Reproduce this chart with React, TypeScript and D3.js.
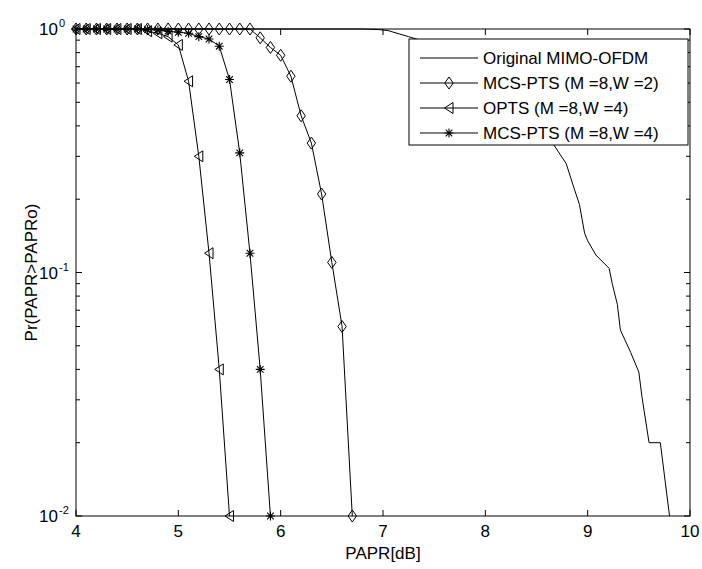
import React from "react";
import * as d3 from "d3";

// ---- data ----
const xTicks = [4, 5, 6, 7, 8, 9, 10];
const yDecades = [1, 0.1, 0.01];
const yExponents = ["0", "-1", "-2"];
const legendLabels = [
  "Original MIMO-OFDM",
  "MCS-PTS (M =8,W =2)",
  "OPTS (M =8,W =4)",
  "MCS-PTS (M =8,W =4)",
];

const originalX = [4.0, 6.8, 6.95, 7.05, 7.25, 7.6, 8.0, 8.3, 8.6, 8.79, 8.87, 8.92, 8.97, 9.0, 9.08, 9.21, 9.24, 9.29, 9.32, 9.42, 9.5, 9.53, 9.6, 9.71, 9.8];
const originalP = [1, 1, 0.995, 0.985, 0.93, 0.84, 0.66, 0.5, 0.37, 0.28, 0.22, 0.19, 0.145, 0.135, 0.118, 0.104, 0.09, 0.074, 0.058, 0.047, 0.039, 0.031, 0.02, 0.02, 0.01];

const mcsW2X = [4.0, 4.1, 4.2, 4.3, 4.4, 4.5, 4.6, 4.7, 4.8, 4.9, 5.0, 5.1, 5.2, 5.3, 5.4, 5.5, 5.6, 5.7, 5.8, 5.9, 6.0, 6.1, 6.2, 6.3, 6.4, 6.5, 6.6, 6.7];
const mcsW2P = [1, 1, 1, 1, 1, 1, 1, 1, 1, 1, 1, 1, 1, 1, 1, 1, 1, 1, 0.92, 0.84, 0.78, 0.64, 0.44, 0.34, 0.21, 0.11, 0.06, 0.01];

const optsX = [4.0, 4.1, 4.2, 4.3, 4.4, 4.5, 4.6, 4.7, 4.8, 4.9, 5.0, 5.1, 5.2, 5.3, 5.4, 5.5];
const optsP = [1, 1, 1, 1, 1, 1, 1, 0.98, 0.96, 0.93, 0.86, 0.61, 0.3, 0.12, 0.04, 0.01];

const mcsW4X = [4.0, 4.1, 4.2, 4.3, 4.4, 4.5, 4.6, 4.7, 4.8, 4.9, 5.0, 5.1, 5.2, 5.3, 5.4, 5.5, 5.6, 5.7, 5.8, 5.9];
const mcsW4P = [1, 1, 1, 1, 1, 1, 1, 0.995, 0.99, 0.98, 0.97, 0.96, 0.93, 0.91, 0.85, 0.62, 0.31, 0.12, 0.04, 0.01];

// ---- layout ----
const W = 702;
const H = 569;
const L = 76, R = 690, T = 29, B = 516;
const FONT = "'Liberation Sans', Arial, sans-serif";
const FS = 17;

const x = d3.scaleLinear().domain([4, 10]).range([L, R]);
const y = d3.scaleLog().domain([0.01, 1]).range([B, T]);

const line = d3
  .line<[number, number]>()
  .x((d) => x(d[0]))
  .y((d) => y(d[1]));

function zip(xs: number[], ps: number[]): [number, number][] {
  return xs.map((v, i) => [v, ps[i]] as [number, number]);
}

function marker(kind: string, cx: number, cy: number, key: any) {
  const common = { fill: "none", stroke: "#000", strokeWidth: 1 };
  if (kind === "diamond") {
    const p = `M${cx},${cy - 6}L${cx + 4.2},${cy}L${cx},${cy + 6}L${cx - 4.2},${cy}Z`;
    return <path key={key} d={p} {...common} />;
  }
  if (kind === "tri") {
    const p = `M${cx - 4.5},${cy}L${cx + 4},${cy - 5.5}L${cx + 4},${cy + 5.5}Z`;
    return <path key={key} d={p} {...common} />;
  }
  // asterisk
  const a = 4.5, b = 3.3;
  const p = `M${cx},${cy - a}L${cx},${cy + a}M${cx - a},${cy}L${cx + a},${cy}M${cx - b},${cy - b}L${cx + b},${cy + b}M${cx - b},${cy + b}L${cx + b},${cy - b}`;
  return <path key={key} d={p} {...common} strokeWidth={1.1} />;
}

export default function App() {
  const series = [
    { data: zip(mcsW2X, mcsW2P), m: "diamond" },
    { data: zip(optsX, optsP), m: "tri" },
    { data: zip(mcsW4X, mcsW4P), m: "star" },
  ];

  const minorTicks: number[] = [];
  [0.01, 0.1].forEach((dec) => {
    for (let k = 2; k <= 9; k++) minorTicks.push(dec * k);
  });

  const legX = 409, legY = 39, legW = 279, legH = 106;
  const rowY = [58, 83, 108, 133];
  const legKinds = ["none", "diamond", "tri", "star"];

  return (
    <svg
      width={W}
      height={H}
      style={{ position: "absolute", left: 0, top: 0, background: "#fff" }}
      fontFamily={FONT}
    >
      <rect x={0} y={0} width={W} height={H} fill="#fff" />
      {/* ticks */}
      {xTicks.map((t) => (
        <g key={"xt" + t}>
          <line x1={x(t)} x2={x(t)} y1={B} y2={B - 6} stroke="#000" />
          <line x1={x(t)} x2={x(t)} y1={T} y2={T + 6} stroke="#000" />
          <text x={x(t)} y={B + 21} fontSize={FS} textAnchor="middle" fill="#000">
            {t}
          </text>
        </g>
      ))}
      {yDecades.map((t, i) => (
        <g key={"yt" + t}>
          <line x1={L} x2={L + 6} y1={y(t)} y2={y(t)} stroke="#000" />
          <line x1={R} x2={R - 6} y1={y(t)} y2={y(t)} stroke="#000" />
          <text x={58} y={y(t) + 6} fontSize={FS} textAnchor="end" fill="#000">
            10
          </text>
          <text x={59} y={y(t) - 2} fontSize={11} textAnchor="start" fill="#000">
            {yExponents[i]}
          </text>
        </g>
      ))}
      {minorTicks.map((t) => (
        <g key={"mt" + t}>
          <line x1={L} x2={L + 4} y1={y(t)} y2={y(t)} stroke="#000" />
          <line x1={R} x2={R - 4} y1={y(t)} y2={y(t)} stroke="#000" />
        </g>
      ))}
      {/* axes box */}
      <rect x={L} y={T} width={R - L} height={B - T} fill="none" stroke="#000" strokeWidth={1} />

      {/* original curve */}
      <path d={line(zip(originalX, originalP)) || ""} fill="none" stroke="#000" strokeWidth={1} />

      {series.map((s, si) => (
        <g key={"s" + si}>
          <path d={line(s.data) || ""} fill="none" stroke="#000" strokeWidth={1} />
          {s.data.map((d, i) => marker(s.m, x(d[0]), y(d[1]), i))}
        </g>
      ))}

      {/* legend */}
      <rect x={legX} y={legY} width={legW} height={legH} fill="#fff" stroke="#000" strokeWidth={1} />
      {legendLabels.map((lab, i) => (
        <g key={"lg" + i}>
          <line x1={420} x2={478} y1={rowY[i]} y2={rowY[i]} stroke="#000" />
          {legKinds[i] !== "none" && marker(legKinds[i], 449, rowY[i], "m" + i)}
          <text x={483} y={rowY[i] + 6} fontSize={FS} fill="#000">
            {lab}
          </text>
        </g>
      ))}

      {/* axis labels */}
      <text x={(L + R) / 2} y={559} fontSize={FS} textAnchor="middle" fill="#000">
        PAPR[dB]
      </text>
      <text
        transform={`translate(37, ${(T + B) / 2}) rotate(-90)`}
        fontSize={FS}
        textAnchor="middle"
        fill="#000"
      >
        Pr(PAPR&gt;PAPRo)
      </text>
    </svg>
  );
}
